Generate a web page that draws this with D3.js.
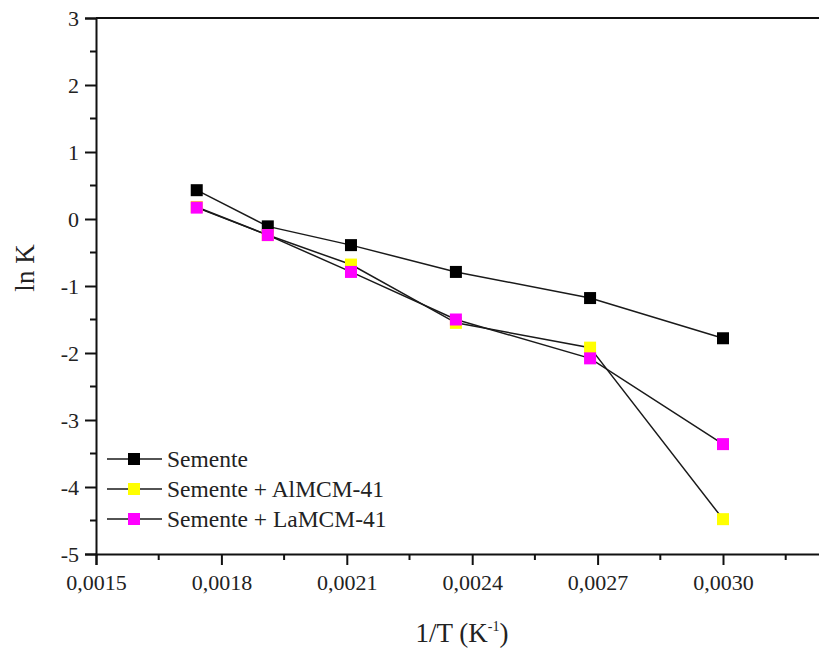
<!DOCTYPE html>
<html>
<head>
<meta charset="utf-8">
<script src="https://cdn.jsdelivr.net/npm/d3@7"></script>
<style>
  html, body { margin: 0; padding: 0; background: #fff; }
  svg { display: block; }
  text { font-family: "Liberation Serif", "DejaVu Serif", serif; fill: #222; }
</style>
</head>
<body>
<svg id="chart" width="819" height="648"></svg>
<script>
// ---- data ----
const invT = [0.001741, 0.001911, 0.00211, 0.002361, 0.002682, 0.0030];
const semente = [0.43, -0.11, -0.39, -0.79, -1.18, -1.78];
const sementeAl = [0.18, -0.24, -0.68, -1.55, -1.92, -4.48];
const sementeLa = [0.17, -0.24, -0.79, -1.50, -2.08, -3.36];
const seriesNames = ["Semente", "Semente + AlMCM-41", "Semente + LaMCM-41"];
const seriesColors = ["#000000", "#ffff00", "#ff00ff"];
const xMajorTicks = [0.0015, 0.0018, 0.0021, 0.0024, 0.0027, 0.0030];
const xMinorTicks = [0.00165, 0.00195, 0.00225, 0.00255, 0.00285, 0.00315];
const yMajorTicks = [-5, -4, -3, -2, -1, 0, 1, 2, 3];
const yMinorTicks = [-4.5, -3.5, -2.5, -1.5, -0.5, 0.5, 1.5, 2.5];

const allSeries = [semente, sementeAl, sementeLa];

(function () {
const svg = d3.select("#chart");
const mLeft = 96, mTop = 18, mBottom = 554;
const x = d3.scaleLinear().domain([0.0015, 0.0033]).range([mLeft, mLeft + 41.8 * 18]);
const y = d3.scaleLinear().domain([-5, 3]).range([mBottom, mTop]);

const fmtX = d => d3.format(".4f")(d).replace(".", ",");

// top frame line
svg.append("line")
  .attr("x1", mLeft).attr("x2", 819)
  .attr("y1", mTop).attr("y2", mTop)
  .attr("stroke", "#111").attr("stroke-width", 2);

// x axis
const xAxis = svg.append("g").attr("transform", `translate(0,${mBottom})`)
  .call(d3.axisBottom(x).tickValues(xMajorTicks).tickFormat(fmtX).tickSize(11).tickPadding(9));
xAxis.select(".domain").attr("stroke", "#111").attr("stroke-width", 2);
xAxis.selectAll(".tick line").attr("stroke", "#111").attr("stroke-width", 2);
xAxis.selectAll(".tick text").style("font-size", "22px").attr("fill", "#222")
  .style("font-family", "'Liberation Serif', serif");
xAxis.append("g").selectAll("line").data(xMinorTicks).join("line")
  .attr("x1", d => x(d)).attr("x2", d => x(d))
  .attr("y1", 0).attr("y2", 6)
  .attr("stroke", "#111").attr("stroke-width", 2);

// y axis
const yAxis = svg.append("g").attr("transform", `translate(${mLeft},0)`)
  .call(d3.axisLeft(y).tickValues(yMajorTicks).tickFormat(d => d < 0 ? "-" + Math.abs(d) : d).tickSize(11).tickPadding(6));
yAxis.select(".domain").attr("stroke", "#111").attr("stroke-width", 2);
yAxis.selectAll(".tick line").attr("stroke", "#111").attr("stroke-width", 2);
yAxis.selectAll(".tick text").style("font-size", "22px").attr("fill", "#222")
  .style("font-family", "'Liberation Serif', serif");
yAxis.append("g").selectAll("line").data(yMinorTicks).join("line")
  .attr("x1", 0).attr("x2", -6)
  .attr("y1", d => y(d)).attr("y2", d => y(d))
  .attr("stroke", "#111").attr("stroke-width", 2);

// axis titles
svg.append("text")
  .attr("transform", "translate(34,268) rotate(-90)")
  .attr("text-anchor", "middle")
  .style("font-size", "27px")
  .text("ln K");

const xt = svg.append("text")
  .attr("x", 462).attr("y", 642)
  .attr("text-anchor", "middle")
  .style("font-size", "27px");
xt.append("tspan").text("1/T (K");
xt.append("tspan").attr("dy", -11).style("font-size", "14px").text("-1");
xt.append("tspan").attr("dy", 11).text(")");

// series lines
const line = d3.line().x((d, i) => x(invT[i])).y(d => y(d));
allSeries.forEach((s, k) => {
  svg.append("path")
    .datum(s)
    .attr("d", line)
    .attr("fill", "none")
    .attr("stroke", "#1a1a1a")
    .attr("stroke-width", 1.5);
});
// markers
const ms = 12;
allSeries.forEach((s, k) => {
  svg.append("g").selectAll("rect").data(s).join("rect")
    .attr("x", (d, i) => x(invT[i]) - ms / 2)
    .attr("y", d => y(d) - ms / 2)
    .attr("width", ms).attr("height", ms)
    .attr("fill", seriesColors[k]);
});

// legend
const legY = [459, 489, 519];
const leg = svg.append("g");
seriesNames.forEach((name, k) => {
  const g = leg.append("g").attr("transform", `translate(0,${legY[k]})`);
  g.append("line").attr("x1", 107).attr("x2", 162).attr("y1", 0).attr("y2", 0)
    .attr("stroke", "#1a1a1a").attr("stroke-width", 1.5);
  g.append("rect").attr("x", 134 - ms / 2).attr("y", -ms / 2)
    .attr("width", ms).attr("height", ms).attr("fill", seriesColors[k]);
  g.append("text").attr("x", 167).attr("y", 8)
    .style("font-size", "23.5px").text(name);
});
})();
</script>
</body>
</html>
